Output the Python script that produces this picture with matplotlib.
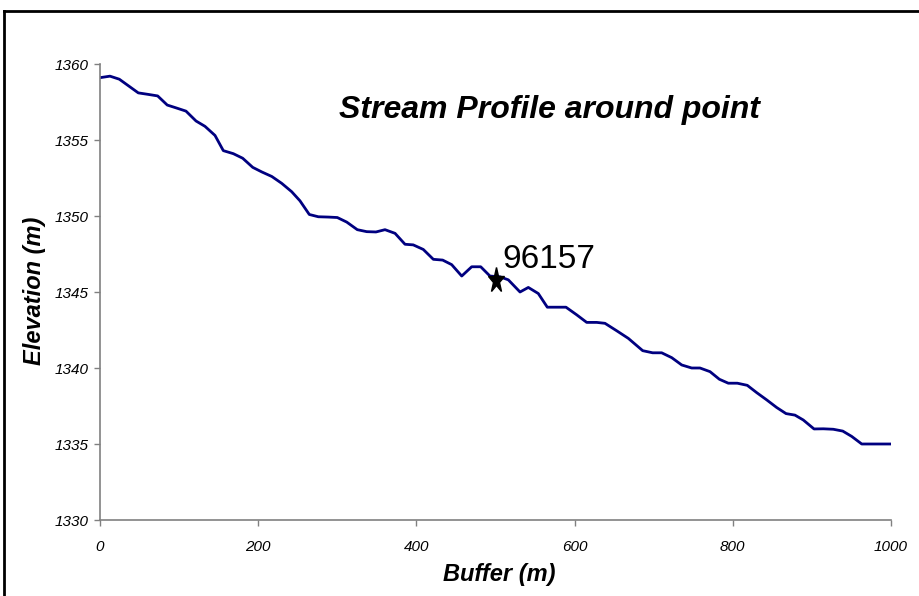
import matplotlib
matplotlib.use('Agg')
import matplotlib.pyplot as plt
from matplotlib.markers import MarkerStyle
from matplotlib.transforms import Affine2D
from matplotlib.lines import Line2D

buffer_m = [0, 12.6, 24.4, 48.4, 61, 72.9, 85, 97, 108.7, 121.4, 132.7, 145.4,
            155.9, 168.6, 180.4, 193.1, 204.5, 217.2, 229.7, 242.3, 252.8, 264.6,
            276, 288.6, 300, 311.9, 325.3, 337.2, 348.9, 360.3, 373, 385.6, 396,
            408.7, 421.4, 433.2, 444.6, 457.3, 469.9, 481.3, 493, 505.7, 516.2,
            531, 541.5, 554.1, 565.5, 577.4, 589.1, 602.6, 615.3, 628, 638.4,
            653.2, 667.9, 686.1, 698.7, 710.1, 722.8, 735.4, 748, 758.5, 771.2,
            783, 794.3, 805.7, 818.3, 830.2, 842.9, 855.5, 867.3, 878.6, 889.1,
            902.7, 914.4, 927, 939, 950.3, 963, 975.7, 988.2, 1000]
elevation_m = [1359.1, 1359.2, 1359.0, 1358.1, 1358.0, 1357.9, 1357.3, 1357.1,
               1356.9, 1356.25, 1355.9, 1355.3, 1354.3, 1354.1, 1353.8, 1353.2,
               1352.9, 1352.6, 1352.15, 1351.6, 1351.0, 1350.1, 1349.95, 1349.93,
               1349.9, 1349.6, 1349.1, 1348.97, 1348.95, 1349.1, 1348.86, 1348.14,
               1348.1, 1347.8, 1347.15, 1347.1, 1346.8, 1346.05, 1346.66, 1346.66,
               1346.05, 1346.0, 1345.8, 1345.0, 1345.3, 1344.9, 1344.0, 1344.0,
               1344.0, 1343.5, 1343.0, 1343.0, 1342.94, 1342.45, 1341.95, 1341.14,
               1341.0, 1341.0, 1340.68, 1340.2, 1340.0, 1340.0, 1339.76, 1339.26,
               1339.0, 1339.0, 1338.86, 1338.38, 1337.9, 1337.4, 1337.0, 1336.9,
               1336.58, 1335.99, 1336.0, 1335.97, 1335.85, 1335.5, 1335.0, 1335.0,
               1335.0, 1335.0]

point_buffer = [500]
point_elev = [1345.8]
point_label = "96157"

x_ticks = [0, 200, 400, 600, 800, 1000]
y_ticks = [1330, 1335, 1340, 1345, 1350, 1355, 1360]

plt.rcParams['font.family'] = ['Liberation Sans', 'DejaVu Sans']

W, H = 919, 596
fig = plt.figure(figsize=(W / 100, H / 100), dpi=100)
ax = fig.add_axes([100 / W, 1 - 520 / H, 791 / W, 456 / H])

ax.plot(buffer_m, elevation_m, color='#000080', lw=2.0, solid_joinstyle='round')

star = MarkerStyle('*', transform=Affine2D().scale(0.65, 1.0))
ax.plot(point_buffer, point_elev, ls='none', marker=star, ms=19,
        color='black', clip_on=False, zorder=5)
ax.annotate(point_label, xy=(point_buffer[0], point_elev[0]), xytext=(5, 8.6),
            textcoords='offset points', ha='left', va='baseline', fontsize=24)

ax.set_xlim(0, 1000)
ax.set_ylim(1330, 1360)
ax.set_xticks(x_ticks)
ax.set_yticks(y_ticks)
ax.tick_params(axis='both', direction='out', length=4.5, width=1,
               color='#808080', labelsize=11)
ax.tick_params(axis='x', pad=10)
ax.tick_params(axis='y', pad=3.5)
for lbl in ax.get_xticklabels() + ax.get_yticklabels():
    lbl.set_fontstyle('italic')

for s in ('top', 'right'):
    ax.spines[s].set_visible(False)
for s in ('left', 'bottom'):
    ax.spines[s].set_color('#808080')
    ax.spines[s].set_linewidth(1.2)

fig.text(549 / W, 1 - 118 / H, 'Stream Profile around point', ha='center',
         va='baseline', fontsize=23, fontweight='bold', fontstyle='italic')
fig.text(499 / W, 1 - 575 / H, 'Buffer (m)', ha='center', va='center',
         fontsize=17, fontweight='bold', fontstyle='italic')
fig.text(35 / W, 1 - 291 / H, 'Elevation (m)', ha='center', va='center',
         rotation=90, fontsize=17, fontweight='bold', fontstyle='italic')

# outer chart frame
fig.add_artist(Line2D([3.5 / W, 3.5 / W], [0, 1 - 11 / H],
                      transform=fig.transFigure, color='black', lw=2))
fig.add_artist(Line2D([3.5 / W, 1], [1 - 11 / H, 1 - 11 / H],
                      transform=fig.transFigure, color='black', lw=2))

fig.savefig('out.png', dpi=100)
